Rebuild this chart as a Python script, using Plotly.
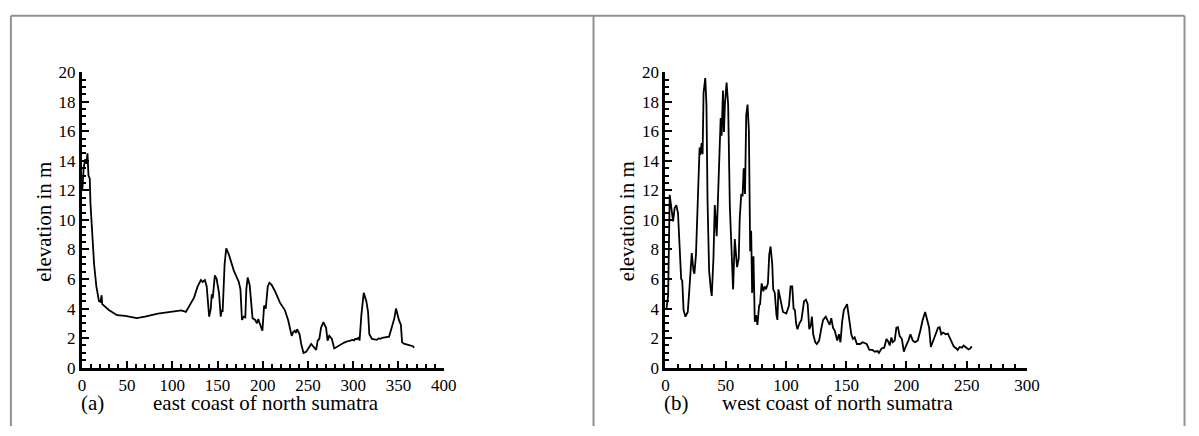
import plotly.graph_objects as go

# ---- data: panel (a) east coast of north sumatra ----
east_km = [0, 0.7, 2.0, 3.5, 5.0, 6.2, 7.3, 8.7, 9.5, 10.9, 13.5, 16.0, 18.9, 20.7, 21.8, 22.5,
           29.8, 38.9, 48, 60.7, 69.8, 84, 99, 110, 115, 119, 124, 128, 131.6, 133.5, 136, 138,
           140.7, 142.5, 143.6, 144.7, 147, 149, 151.6, 153.5, 154.5, 155.6, 157.8, 159.6, 162.5,
           168, 173.5, 175.3, 177, 179, 180.7, 181.8, 183.3, 185.5, 187, 188.7, 190, 191.6, 193.5,
           195, 196, 198.2, 199.6, 201.5, 203.3, 205.5, 207.3, 209.8, 213.5, 219, 224.4, 228,
           230.5, 232, 233.5, 235.3, 236.5, 238, 240.7, 242.5, 245, 248, 253.5, 257, 259, 260.7,
           262.5, 264.4, 267, 270, 271.6, 273.5, 276.4, 279, 282, 284.4, 286, 288, 290, 291.6,
           293, 295, 297, 299, 301, 302, 304.4, 306, 307, 309, 311.6, 314.5, 316.4, 317.8, 320.7,
           323, 326, 328, 330, 332, 335, 337, 339.6, 342.5,
           345.5, 347.3, 349, 350.5, 352.7, 354, 356, 358.9, 361, 362.5, 364.4, 366, 367.3]
east_elev = [12.0, 12.2, 13.5, 14.1, 13.8, 14.5, 13.0, 12.8, 11.1, 9.6, 7.0, 5.5, 4.5, 4.45, 4.9, 4.3,
             3.9, 3.55, 3.5, 3.35, 3.45, 3.66, 3.77, 3.88, 3.77, 4.2, 4.74, 5.5, 5.93, 5.8, 5.93, 5.5,
             3.45, 4.0, 4.96, 4.7, 6.25, 6.0, 5.05, 3.45, 3.9, 3.77, 7.0, 8.08, 7.65,
             6.57, 5.8, 5.3, 3.23, 3.45, 3.4, 5.3, 6.1, 5.6, 4.74, 3.35, 3.3, 3.23, 3.0,
             3.3, 3.1, 2.7, 2.5, 4.2, 4.0, 5.5, 5.75, 5.6, 5.17, 4.4, 3.9, 3.23,
             2.5, 2.15, 2.4, 2.5, 2.35, 2.6, 2.26, 1.6, 1.0, 1.08, 1.6, 1.3, 1.2, 1.83,
             1.94, 2.7, 3.08, 2.7, 1.83, 2.15, 1.94, 1.3, 1.42, 1.5, 1.58, 1.62, 1.7, 1.72,
             1.78, 1.8, 1.86, 1.88, 1.84, 1.95, 1.94, 2.05, 1.83, 3.55, 5.06, 4.5, 3.77, 2.26, 1.94,
             1.92, 1.88, 1.98, 1.95, 2.02, 2.05, 2.1, 2.1, 2.7,
             3.35, 4.0, 3.45, 3.23, 2.9, 1.72, 1.62, 1.57, 1.55, 1.5, 1.5, 1.45, 1.35]

# ---- data: panel (b) west coast of north sumatra ----
west_km = [0.8, 2.2, 3.5, 4.9, 6.3, 7.6, 9.0, 10.4, 11.7, 13.0, 13.9, 15.0, 16.6, 18.5, 19.9, 21.8,
           23.2, 24.0, 25.3, 26.7, 28.3, 28.9, 30.0, 30.8, 31.6, 33.0, 34.0, 34.9, 36.2, 37.6, 38.4,
           39.8, 40.9, 42.5, 43.6, 44.4, 45.8, 46.6, 47.7, 48.5, 49.3, 50.7, 52.0, 53.4, 54.8, 56.1,
           57.5, 59.4, 60.8, 61.6, 62.9, 64.0, 64.9, 66.0, 67.0, 68.1, 69.2, 70.3, 71.1, 71.9, 73.0,
           74.1, 75.2, 76.3, 77.7, 78.5, 79.8, 81.2, 82.3, 83.4, 85.0, 86.1, 87.2, 88.6, 89.4, 90.7,
           92.1, 92.9, 93.7, 94.8, 96.5, 97.5, 100.3, 102.5, 103.8, 105.2, 106.3, 107.4, 108.4,
           109.5, 111.2, 112.8, 115.0, 116.6, 118.0, 119.3, 120.7, 121.5, 122.6, 124.3, 125.6,
           127.5, 129.2, 130.8, 133.0, 134.9, 136.2, 137.6, 139.0, 140.6, 142.5, 143.9, 145.2,
           146.6, 148.0, 149.3, 150.7, 152.0, 154.2, 155.6, 157.0, 158.9, 161.6, 163.5, 167.0,
           169.2, 171.7, 173.8, 176.0, 177.1, 179.3, 181.5, 183.4, 184.7, 186.1, 187.5, 188.6,
           190.2, 191.6, 192.9, 194.3, 196.2, 197.8, 199.7, 201.6, 203.3, 205.2, 207.1, 209.3,
           211.4, 213.4, 215.5, 216.9, 218.8, 220.2, 222.3, 224.3, 226.2, 227.5, 228.9, 230.5,
           232.4, 234.3, 236.5, 239.2, 241.4, 242.5, 244.1, 246.0, 247.4, 249.6, 251.5, 252.9,
           254.2]
west_elev = [4.0, 4.85, 11.7, 10.9, 9.9, 10.8, 11.0, 10.45, 8.1, 6.0, 5.9, 3.9, 3.45, 3.77, 5.4, 7.76,
             6.57, 6.36, 7.65, 10.45, 14.9, 14.4, 15.2, 14.45, 18.6, 19.6, 17.8, 11.3, 6.57, 5.3, 4.85,
             7.4, 11.0, 8.9, 11.3, 13.9, 16.9, 15.7, 18.75, 15.95, 17.8, 19.3, 17.8, 10.9, 7.2, 5.3,
             8.7, 6.8, 7.4, 10.1, 11.75, 11.6, 13.5, 11.75, 17.1, 17.8, 16.05, 7.87, 9.27, 5.06, 7.54,
             3.1, 3.55, 2.9, 4.2, 4.3, 5.7, 5.17, 5.5, 5.3, 5.7, 7.65, 8.2, 7.0, 5.3, 5.06,
             3.55, 3.23, 5.3, 4.85, 4.0, 3.77, 3.66, 4.2, 5.5, 5.5, 4.0, 3.9, 3.0,
             2.6, 3.0, 3.23, 4.5, 4.6, 4.3, 2.6, 2.9, 3.45, 2.26, 1.72, 1.6,
             1.83, 2.6, 3.23, 3.45, 3.1, 2.9, 3.35, 2.7, 2.48, 1.83, 2.26, 1.72,
             3.1, 3.9, 4.1, 4.3, 3.55, 2.26, 1.94, 2.05, 1.6, 1.6, 1.72, 1.6,
             1.2, 1.2, 1.08, 1.12, 1.0, 1.3, 1.35, 1.94, 1.79, 1.5, 2.05, 1.72,
             1.83, 2.7, 2.74, 2.15, 1.94, 1.08, 1.5, 1.83, 2.26, 1.83, 1.72, 1.83,
             2.48, 3.23, 3.77, 3.35, 2.7, 1.4, 1.83, 2.37, 2.7, 2.74, 2.26, 2.37,
             2.26, 2.3, 1.94, 1.44, 1.3, 1.2, 1.4, 1.35, 1.5, 1.35, 1.23, 1.3,
             1.44]

x_ticks_a = [0, 50, 100, 150, 200, 250, 300, 350, 400]
x_ticks_b = [0, 50, 100, 150, 200, 250, 300]
y_ticks = [0, 2, 4, 6, 8, 10, 12, 14, 16, 18, 20]

W, H = 1199, 436
FONT = "Liberation Serif"

fig = go.Figure()
fig.add_trace(go.Scatter(x=east_km, y=east_elev, mode="lines", xaxis="x", yaxis="y",
                         line=dict(color="black", width=1.8), showlegend=False))
fig.add_trace(go.Scatter(x=west_km, y=west_elev, mode="lines", xaxis="x2", yaxis="y2",
                         line=dict(color="black", width=1.8), showlegend=False))

def px(v):
    return v / W

def py(v):
    return 1 - v / H

def axis_style():
    return dict(showline=True, linecolor="black", linewidth=3, ticks="inside", ticklen=7,
                tickwidth=2, tickcolor="black", showgrid=False, zeroline=False,
                tickfont=dict(family=FONT, size=17, color="black"), fixedrange=True)

def minor_x():
    return dict(dtick=10, ticks="inside", ticklen=4, tickwidth=1.5, tickcolor="black")

def minor_y():
    return dict(dtick=0.5, ticks="inside", ticklen=4, tickwidth=1.5, tickcolor="black")

fig.update_layout(
    width=W, height=H, margin=dict(l=0, r=0, t=0, b=0, pad=0),
    paper_bgcolor="white", plot_bgcolor="white",
    font=dict(family=FONT, size=17, color="black"),
    xaxis=dict(domain=[px(79), px(446)], range=[0, 400], tickvals=x_ticks_a, anchor="y",
               minor=minor_x(), **axis_style()),
    yaxis=dict(domain=[py(375), py(66)], range=[0, 20], tickvals=y_ticks, anchor="x",
               minor=minor_y(), **axis_style()),
    xaxis2=dict(domain=[px(671), px(1037.7)], range=[0, 300], tickvals=x_ticks_b, anchor="y2",
                minor=minor_x(), **axis_style()),
    yaxis2=dict(domain=[py(375), py(66)], range=[0, 20], tickvals=y_ticks, anchor="x2",
                minor=minor_y(), **axis_style()),
)

def ann(text, x, y, angle=0, size=21, xanchor="center"):
    fig.add_annotation(text=text, x=px(x), y=py(y), xref="paper", yref="paper",
                       showarrow=False, textangle=angle, xanchor=xanchor, yanchor="middle",
                       font=dict(family=FONT, size=size, color="black"), borderpad=0)

ann("east coast of north sumatra", 266, 412)
ann("(a)", 90, 412)
ann("elevation in m", 41, 222, angle=-90)
ann("west coast of north sumatra", 846, 412)
ann("(b)", 682, 412)
ann("elevation in m", 632, 222, angle=-90)

# panel frame lines
border = dict(color="rgb(145,145,145)", width=2)
for xv in [7, 598, 1197.5]:
    fig.add_shape(type="line", xref="paper", yref="paper", x0=px(xv), x1=px(xv),
                  y0=py(7), y1=0, line=border)
fig.add_shape(type="line", xref="paper", yref="paper", x0=px(7), x1=px(1197.5),
              y0=py(7), y1=py(7), line=border)

fig.write_html(
    "out.html",
    config={"displayModeBar": False},
    post_script=("document.documentElement.style.overflow='hidden';"
                 "document.body.style.margin='0';document.body.style.padding='0';"
                 "document.body.style.overflow='hidden';"),
)
